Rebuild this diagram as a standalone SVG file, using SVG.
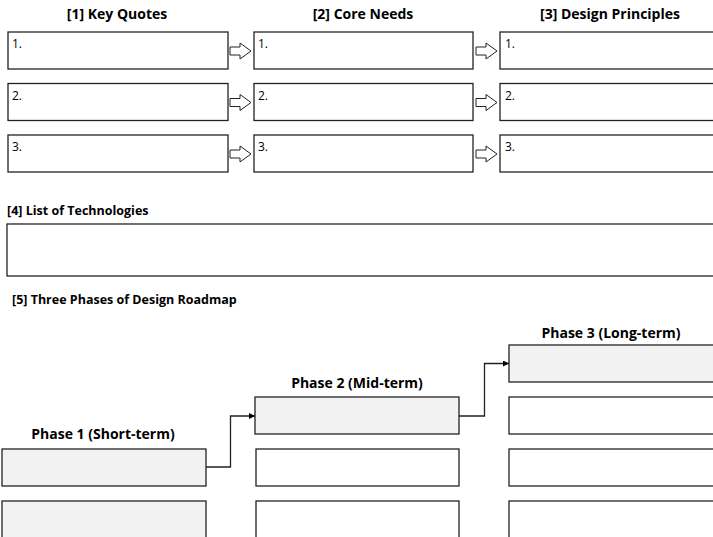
<svg xmlns="http://www.w3.org/2000/svg" width="713" height="537" viewBox="0 0 713 537">
<defs>
<style>
.t{font-family:"Open Sans","Liberation Sans",sans-serif;font-weight:bold;font-size:12.5px;fill:#000}
.h{font-family:"Open Sans","Liberation Sans",sans-serif;font-weight:bold;font-size:14px;fill:#000}
.n{font-family:"Open Sans","Liberation Sans",sans-serif;font-size:12px;fill:#000}
.b{fill:#fff;stroke:#222;stroke-width:1.3}
.g{fill:#f2f2f2;stroke:#222;stroke-width:1.3}
.ba{fill:#fff;stroke:#222;stroke-width:1}
.c{fill:none;stroke:#222;stroke-width:1.3}
</style>
<marker id="ah" viewBox="0 0 10 10" refX="10" refY="5" markerWidth="6" markerHeight="6" markerUnits="userSpaceOnUse" orient="auto"><path d="M0,0 L10,5 L0,10 z" fill="#000"/></marker>
<path id="blk" d="M0,4 L10,4 L10,0 L21,8 L10,16 L10,12 L0,12 z"/>
</defs>
<rect width="713" height="537" fill="#fff"/>

<g id="headers">
<text class="h" x="117" y="19" text-anchor="middle">[1] Key Quotes</text>
<text class="h" x="363" y="19" text-anchor="middle">[2] Core Needs</text>
<text class="h" x="610" y="19" text-anchor="middle">[3] Design Principles</text>
</g>

<g id="quote1"><rect class="b" x="8" y="32" width="220" height="37"/><text class="n" x="12" y="48">1.</text></g>
<g id="quote2"><rect class="b" x="8" y="83.5" width="220" height="37"/><text class="n" x="12" y="99.5">2.</text></g>
<g id="quote3"><rect class="b" x="8" y="135" width="220" height="37"/><text class="n" x="12" y="151">3.</text></g>

<g id="need1"><rect class="b" x="254" y="32" width="219" height="37"/><text class="n" x="258" y="48">1.</text></g>
<g id="need2"><rect class="b" x="254" y="83.5" width="219" height="37"/><text class="n" x="258" y="99.5">2.</text></g>
<g id="need3"><rect class="b" x="254" y="135" width="219" height="37"/><text class="n" x="258" y="151">3.</text></g>

<g id="principle1"><rect class="b" x="500" y="32" width="214" height="37"/><text class="n" x="505" y="48">1.</text></g>
<g id="principle2"><rect class="b" x="500" y="83.5" width="214" height="37"/><text class="n" x="505" y="99.5">2.</text></g>
<g id="principle3"><rect class="b" x="500" y="135" width="214" height="37"/><text class="n" x="505" y="151">3.</text></g>

<g id="tech">
<text class="t" x="7" y="215">[4] List of Technologies</text>
<rect class="b" x="7" y="224" width="708" height="52"/>
</g>

<g id="roadmap-title"><text class="t" x="12" y="304">[5] Three Phases of Design Roadmap</text></g>

<g id="phase1">
<text class="h" x="103" y="439" text-anchor="middle">Phase 1 (Short-term)</text>
<rect class="g" x="2" y="449" width="204" height="37"/>
<rect class="g" x="2" y="501" width="204" height="40"/>
</g>
<g id="phase2">
<text class="h" x="357" y="388" text-anchor="middle">Phase 2 (Mid-term)</text>
<rect class="g" x="255" y="397" width="204" height="37"/>
<rect class="b" x="256" y="449" width="203" height="37"/>
<rect class="b" x="256" y="501" width="203" height="40"/>
</g>
<g id="phase3">
<text class="h" x="611" y="338" text-anchor="middle">Phase 3 (Long-term)</text>
<rect class="g" x="509" y="345" width="205" height="37"/>
<rect class="b" x="509" y="397" width="205" height="37"/>
<rect class="b" x="509" y="449" width="205" height="37"/>
<rect class="b" x="509" y="501" width="205" height="40"/>
</g>

<g id="connectors">
<use href="#blk" class="ba" x="230" y="43"/>
<use href="#blk" class="ba" x="230" y="94.5"/>
<use href="#blk" class="ba" x="230" y="146"/>
<use href="#blk" class="ba" x="476" y="43"/>
<use href="#blk" class="ba" x="476" y="94.5"/>
<use href="#blk" class="ba" x="476" y="146"/>
<path class="c" d="M206,467 H230.5 V416 H255" marker-end="url(#ah)"/>
<path class="c" d="M459,416 H484.5 V363.5 H509" marker-end="url(#ah)"/>
</g>
</svg>
